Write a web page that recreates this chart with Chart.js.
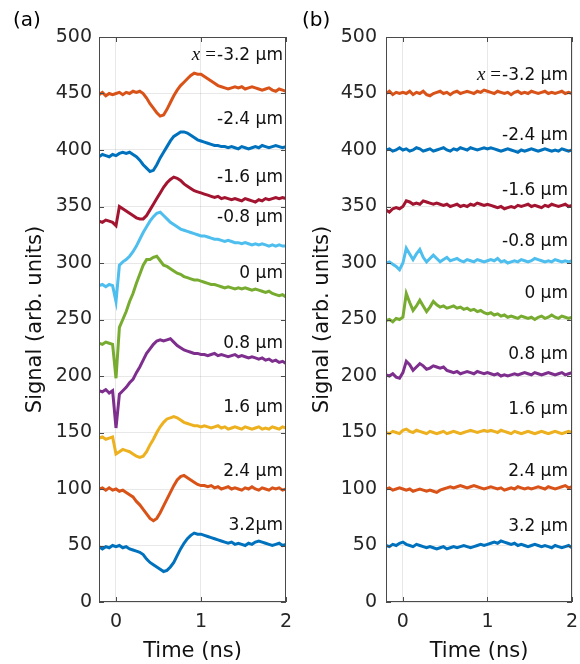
<!DOCTYPE html>
<html>
<head>
<meta charset="utf-8">
<script src="https://cdn.jsdelivr.net/npm/chart.js@4.4.1/dist/chart.umd.min.js"></script>
<style>
  html, body { margin: 0; padding: 0; background: #fff; overflow: hidden; }
  #wrap { position: relative; width: 580px; height: 664px; }
  canvas { position: absolute; top: 0; }
  #chartA { left: 0; }
  #chartB { left: 290px; }
</style>
</head>
<body>
<div id="wrap">
  <canvas id="chartA" width="292" height="664"></canvas>
  <canvas id="chartB" width="290" height="664"></canvas>
</div>
<script>
// time samples (ns)
const times = [-0.2, -0.16, -0.12, -0.08, -0.04,
  0, 0.04, 0.08, 0.12, 0.16, 0.2, 0.24, 0.28, 0.32, 0.36, 0.4,
  0.44, 0.48, 0.52, 0.56, 0.6, 0.64, 0.68, 0.72, 0.76, 0.8, 0.84, 0.88, 0.92, 0.96, 1.0,
  1.04, 1.08, 1.12, 1.16, 1.2, 1.24, 1.28, 1.32, 1.36, 1.4, 1.44, 1.48, 1.52, 1.56, 1.6,
  1.64, 1.68, 1.72, 1.76, 1.8, 1.84, 1.88, 1.92, 1.96, 2.0];

const xTicks = [0, 1, 2];
const yTicks = [0, 50, 100, 150, 200, 250, 300, 350, 400, 450, 500];

const colors = ['#D95319', '#0072BD', '#A2142F', '#4DBEEE', '#77AC30',
  '#7E2F8E', '#EDB120', '#D95319', '#0072BD'];

// panel (a) traces, x = -3.2 ... 3.2 um
const aM32 = [449, 451, 448, 450, 449,
  450, 451, 449, 451, 450, 452, 451, 452, 450, 446, 441,
  437, 433, 430, 431, 436, 442, 448, 453, 457, 460, 463, 466, 468, 467, 467,
  465, 463, 461, 459, 457, 456, 455, 454, 455, 456, 455, 456, 454, 455, 456, 455, 454, 453, 454, 455, 453, 452, 454, 453, 452];
const aM24 = [394, 396, 395, 394, 396,
  395, 397, 398, 397, 398, 396, 394, 391, 387, 384, 381,
  382, 387, 393, 398, 403, 408, 412, 414, 416, 416, 415, 413, 411, 409, 408,
  407, 406, 405, 404, 404, 403, 403, 402, 403, 402, 401, 403, 402, 401, 402, 403, 402, 404, 403, 402, 403, 404, 403, 402, 403];
const aM16 = [337, 336, 338, 337, 336,
  333, 350, 348, 346, 344, 342, 340, 339, 339, 342, 347,
  352, 357, 362, 367, 371, 374, 376, 375, 373, 370, 368, 366, 364, 363, 362,
  361, 360, 359, 358, 359, 357, 358, 357, 356, 357, 356, 355, 357, 356, 355, 354, 356, 355, 357, 356, 357, 358, 357, 358, 357];
const aM08 = [280, 281, 279, 281, 280,
  266, 298, 301, 303, 306, 310, 315, 321, 327, 332, 337,
  341, 344, 345, 342, 339, 336, 334, 332, 330, 329, 328, 327, 326, 325, 324,
  324, 323, 322, 321, 321, 320, 319, 320, 319, 318, 318, 317, 318, 317, 316, 317, 316, 317, 316, 315, 316, 315, 316, 315, 315];
const aZero = [229, 228, 230, 229, 228,
  198, 243, 250, 257, 266, 273, 282, 290, 298, 303, 303,
  305, 306, 302, 298, 297, 295, 293, 291, 290, 288, 287, 286, 285, 285, 284,
  283, 282, 281, 281, 280, 279, 278, 279, 278, 277, 278, 277, 278, 277, 276, 277, 276, 275, 274, 275, 273, 272, 271, 272, 270];
const aP08 = [187, 186, 188, 185, 187,
  154, 184, 187, 190, 194, 197, 203, 208, 214, 220, 224,
  228, 231, 232, 231, 232, 233, 230, 227, 225, 223, 222, 221, 220, 220, 219,
  219, 218, 219, 220, 218, 219, 218, 217, 218, 219, 217, 218, 217, 216, 217, 216, 215, 216, 214, 215, 213, 214, 212, 213, 211];
const aP16 = [145, 146, 144, 145, 146,
  131, 133, 135, 134, 133, 131, 129, 128, 129, 133, 139,
  144, 150, 155, 159, 162, 163, 164, 163, 161, 159, 158, 157, 156, 156, 155,
  156, 155, 154, 155, 156, 154, 155, 153, 154, 155, 154, 153, 155, 154, 153, 154, 155, 153, 154, 153, 155, 154, 153, 155, 154];
const aP24 = [100, 101, 99, 101, 99,
  100, 98, 99, 97, 95, 93, 89, 86, 82, 78, 74,
  72, 74, 79, 85, 91, 97, 103, 108, 111, 112, 110, 108, 106, 104, 103,
  103, 102, 103, 101, 102, 100, 101, 102, 100, 101, 100, 99, 101, 100, 102, 100, 99, 101, 100, 99, 101, 100, 101, 99, 100];
const aP32 = [49, 47, 49, 48, 50,
  49, 50, 48, 49, 47, 46, 45, 44, 42, 38, 35,
  33, 31, 29, 27, 28, 31, 35, 41, 47, 52, 56, 59, 61, 60, 60,
  59, 58, 57, 56, 55, 54, 53, 52, 53, 51, 52, 51, 50, 52, 51, 53, 54, 53, 52, 51, 50, 51, 52, 50, 51];

// panel (b) traces
const bM32 = [450, 452, 449, 451, 450,
  451, 450, 452, 449, 451, 450, 452, 449, 448, 450, 451,
  452, 450, 451, 449, 451, 452, 450, 451, 452, 451, 450, 452, 451, 453, 452,
  451, 450, 452, 451, 450, 451, 449, 451, 452, 450, 451, 450, 452, 451, 450, 451, 452, 450, 451, 450, 451, 452, 450, 451, 450];
const bM24 = [400, 401, 399, 400, 402,
  400, 401, 399, 400, 402, 401, 399, 400, 401, 399, 400,
  401, 402, 400, 399, 401, 400, 402, 401, 400, 402, 401, 400, 401, 402, 401,
  402, 401, 400, 399, 400, 401, 400, 399, 398, 400, 399, 400, 401, 400, 399, 400, 401, 400, 399, 400, 399, 401, 400, 399, 400];
const bM16 = [347, 345, 348, 349, 348,
  350, 355, 354, 352, 353, 352, 355, 354, 353, 352, 353,
  352, 351, 352, 350, 351, 352, 350, 351, 350, 352, 351, 353, 352, 351, 352,
  351, 350, 349, 350, 348, 349, 350, 349, 351, 350, 351, 352, 350, 351, 350, 349, 351, 350, 352, 351, 350, 351, 352, 350, 351];
const bM08 = [300, 301, 299, 297, 294,
  300, 313, 308, 303, 308, 312, 305, 301, 304, 307, 304,
  301, 303, 305, 302, 303, 304, 302, 301, 303, 302, 301, 303, 302, 301, 302,
  303, 302, 304, 301, 302, 300, 301, 302, 301, 303, 302, 301, 302, 304, 303, 302, 301, 302, 301, 303, 302, 301, 302, 301, 302];
const bZero = [249, 250, 248, 251, 250,
  252, 273, 265, 258, 262, 267, 262, 257, 261, 266, 263,
  261, 262, 260, 261, 262, 260, 261, 259, 260, 258, 259, 257, 258, 256, 255,
  256, 254, 255, 253, 254, 252, 253, 252, 251, 253, 252, 251, 252, 250, 252, 253, 251, 252, 254, 252, 251, 253, 252, 251, 252];
const bP08 = [201, 200, 202, 199, 198,
  203, 213, 210, 205, 208, 211, 209, 206, 207, 209, 208,
  207, 208, 205, 204, 203, 204, 202, 203, 204, 203, 202, 204, 203, 202, 203,
  202, 201, 202, 200, 201, 200, 201, 202, 201, 202, 203, 202, 201, 203, 202, 201, 202, 203, 202, 201, 202, 203, 201, 202, 203];
const bP16 = [150, 149, 151, 150, 149,
  152, 153, 151, 150, 152, 151, 150, 149, 151, 150, 149,
  150, 151, 149, 150, 151, 150, 149, 150, 151, 152, 151, 150, 151, 152, 151,
  152, 151, 150, 152, 151, 150, 149, 151, 150, 149, 150, 151, 150, 149, 150, 151, 150, 149, 150, 151, 150, 149, 150, 151, 150];
const bP24 = [100, 101, 99, 100, 101,
  100, 99, 100, 98, 99, 100, 99, 98, 99, 98, 97,
  99, 100, 101, 102, 101, 102, 103, 102, 101, 102, 103, 102, 101, 100, 101,
  102, 101, 100, 101, 99, 100, 101, 100, 102, 101, 100, 101, 100, 101, 102, 101, 100, 102, 101, 100, 101, 102, 103, 101, 102];
const bP32 = [50, 49, 51, 50, 52,
  53, 51, 50, 49, 51, 50, 49, 48, 49, 48, 47,
  48, 49, 47, 48, 49, 48, 49, 50, 49, 48, 49, 50, 51, 50, 51,
  52, 53, 52, 54, 53, 52, 51, 52, 50, 51, 50, 49, 50, 51, 50, 49, 50, 49, 48, 50, 49, 48, 49, 50, 48];

const seriesA = [aM32, aM24, aM16, aM08, aZero, aP08, aP16, aP24, aP32];
const seriesB = [bM32, bM24, bM16, bM08, bZero, bP08, bP16, bP24, bP32];

const labelsA = ['-3.2 \u03bcm', '-2.4 \u03bcm', '-1.6 \u03bcm', '-0.8 \u03bcm', '0 \u03bcm',
  '0.8 \u03bcm', '1.6 \u03bcm', '2.4 \u03bcm', '3.2\u03bcm'];
const labelsB = ['-3.2 \u03bcm', '-2.4 \u03bcm', '-1.6 \u03bcm', '-0.8 \u03bcm', '0 \u03bcm',
  '0.8 \u03bcm', '1.6 \u03bcm', '2.4 \u03bcm', '3.2 \u03bcm'];
const labelYA = [484, 427, 376, 340, 291, 229, 172, 115, 68];
const labelYB = [466, 413, 364, 319, 273, 219, 170, 115, 67];

seriesA.concat(seriesB).forEach((s, i) => {
  if (s.length !== times.length) throw new Error('series ' + i + ' has ' + s.length + ' points');
});

Chart.defaults.font.family = '"DejaVu Sans"';
Chart.defaults.color = '#262626';

// box, inside tick marks, trace labels and panel letter
const framePlugin = {
  id: 'frame',
  afterDraw(chart, args, opts) {
    const ctx = chart.ctx, a = chart.chartArea;
    const x = chart.scales.x, y = chart.scales.y;
    ctx.save();
    ctx.strokeStyle = '#4a4a4a';
    ctx.lineWidth = 1;
    ctx.strokeRect(Math.round(a.left) + 0.5, Math.round(a.top) + 0.5,
      Math.round(a.right - a.left) - 1, Math.round(a.bottom - a.top) - 1);
    ctx.beginPath();
    y.ticks.forEach(t => {
      const py = Math.round(y.getPixelForValue(t.value)) + 0.5;
      ctx.moveTo(a.left, py); ctx.lineTo(a.left + 5, py);
      ctx.moveTo(a.right, py); ctx.lineTo(a.right - 5, py);
    });
    x.ticks.forEach(t => {
      const px = Math.round(x.getPixelForValue(t.value)) + 0.5;
      ctx.moveTo(px, a.bottom); ctx.lineTo(px, a.bottom - 5);
      ctx.moveTo(px, a.top); ctx.lineTo(px, a.top + 5);
    });
    ctx.stroke();

    ctx.fillStyle = '#111';
    ctx.textAlign = 'right';
    ctx.textBaseline = 'middle';
    const lx = a.right - opts.inset;
    opts.labels.forEach((txt, i) => {
      const py = y.getPixelForValue(opts.labelY[i]);
      ctx.font = '17px "DejaVu Sans"';
      ctx.fillText(txt, lx, py);
      if (i === 0) {
        const w = ctx.measureText(txt).width;
        ctx.font = '19px "Liberation Serif"';
        ctx.fillText('=', lx - w - 1, py);
        const we = ctx.measureText('=').width;
        ctx.font = 'italic 19px "Liberation Serif"';
        ctx.fillText('x', lx - w - we - 6, py);
      }
    });

    ctx.font = '20px "DejaVu Sans"';
    ctx.textAlign = 'left';
    ctx.fillStyle = '#000';
    ctx.fillText(opts.letter, opts.letterX, 21);
    ctx.restore();
  }
};

function makePanel(id, series, labels, labelY, cfg) {
  const datasets = series.map((vals, i) => ({
    data: times.map((t, k) => ({ x: t, y: vals[k] })),
    borderColor: colors[i],
    borderWidth: 3,
    pointRadius: 0,
    tension: 0,
    fill: false
  }));
  return new Chart(document.getElementById(id), {
    type: 'line',
    data: { datasets },
    options: {
      responsive: false,
      animation: false,
      layout: { padding: { top: 37, right: cfg.padRight, bottom: 0, left: 0 } },
      plugins: {
        legend: { display: false },
        tooltip: { enabled: false },
        frame: { labels, labelY, letter: cfg.letter, letterX: cfg.letterX, inset: cfg.inset }
      },
      scales: {
        x: {
          type: 'linear',
          min: -0.2,
          max: 2,
          afterBuildTicks: s => { s.ticks = xTicks.map(v => ({ value: v })); },
          afterFit: s => { s.height = 62; },
          ticks: { font: { size: 19 }, padding: 0, maxRotation: 0 },
          grid: { color: 'rgba(0,0,0,0.09)', drawTicks: true, tickLength: 9, tickColor: 'rgba(0,0,0,0)' },
          border: { display: false },
          title: { display: true, text: 'Time (ns)', font: { size: 21 }, padding: { top: 0, bottom: 0 }, color: '#111' }
        },
        y: {
          min: 0,
          max: 500,
          afterBuildTicks: s => { s.ticks = yTicks.map(v => ({ value: v })); },
          afterFit: s => { s.width = cfg.yWidth; },
          ticks: { font: { size: 19 }, padding: cfg.tickPad },
          grid: { color: 'rgba(0,0,0,0.09)', drawTicks: false },
          border: { display: false },
          title: { display: true, text: 'Signal (arb. units)', font: { size: 21 }, padding: { top: cfg.titlePad, bottom: 0 }, color: '#111' }
        }
      }
    },
    plugins: [framePlugin]
  });
}

makePanel('chartA', seriesA, labelsA, labelYA,
  { padRight: 6, yWidth: 99, tickPad: 7, titlePad: 23, letter: '(a)', letterX: 13, inset: 3 });
makePanel('chartB', seriesB, labelsB, labelYB,
  { padRight: 8, yWidth: 96, tickPad: 9, titlePad: 20, letter: '(b)', letterX: 12, inset: 4 });
</script>
</body>
</html>
